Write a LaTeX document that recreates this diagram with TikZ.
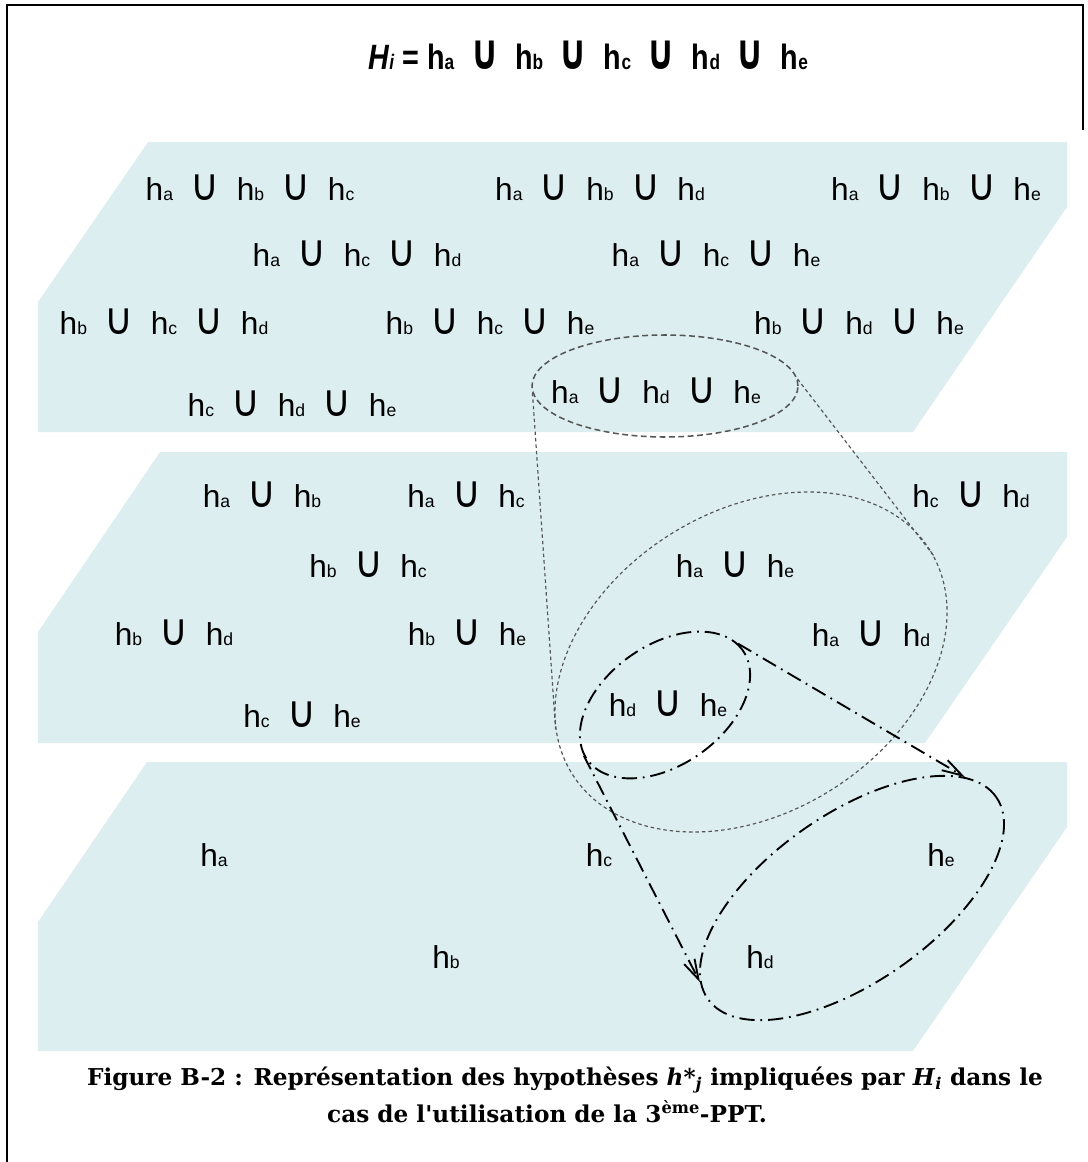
\documentclass[tikz,border=0pt]{standalone}
\usepackage{fontspec}
\usepackage{graphicx}
\setmainfont{DejaVu Serif}
\setsansfont{Liberation Sans}
\newfontfamily\symfont{DejaVu Sans}
\usetikzlibrary{arrows.meta,shapes.geometric}
\definecolor{Plane}{HTML}{DCEEF0}
\definecolor{Zoom}{HTML}{555555}
\newcommand{\pxu}{0.3mm}
\newcommand{\hyp}[2][15]{h{\fontsize{#1}{#1}\selectfont #2}}
\newcommand{\cupop}{\hspace{0.55em}\scalebox{1.25}[1.4]{\symfont ∪}\hspace{0.55em}}
\tikzset{
  plane/.style={fill=Plane, draw=none},
  lbl/.style={font=\sffamily\fontsize{27}{30}\selectfont, inner sep=0pt},
  zoomdash/.style={ellipse, draw=Zoom, line width=1.3pt, dash pattern=on 5pt off 3pt, inner sep=0pt},
  zoomfine/.style={zoomdash, line width=1pt, dash pattern=on 3pt off 2.5pt},
  zoomdot/.style={ellipse, draw=black, line width=1.6pt, dash pattern=on 13pt off 5pt on 1.5pt off 5pt, inner sep=0pt},
  link/.style={draw=Zoom, line width=1pt, dash pattern=on 3pt off 2.5pt},
  darrow/.style={draw=black, line width=1.6pt, dash pattern=on 13pt off 5pt on 1.5pt off 5pt, -{Straight Barb[length=6mm,width=3.5mm]}},
  frame/.style={line width=1.8pt},
  capt/.style={font=\bfseries\fontsize{19.8}{24}\selectfont, inner sep=0pt}
}
\begin{document}
\begin{tikzpicture}[x=\pxu, y=-\pxu]
\useasboundingbox (0,0) rectangle (1088,1162);
\draw[frame] (7,1162) -- (7,5) -- (1083,5) -- (1083,130);
% three levels
\fill[plane] (148,142) -- (1067,142) -- (1067,207) -- (913,432) -- (38,432) -- (38,302) -- cycle;
\fill[plane] (160,452) -- (1067,452) -- (1067,537) -- (925,743) -- (38,743) -- (38,632) -- cycle;
\fill[plane] (147,762) -- (1067,762) -- (1067,827) -- (913,1051) -- (38,1051) -- (38,922) -- cycle;
\node[font=\sffamily\bfseries\fontsize{30}{34}\selectfont, inner sep=0pt] (title) at (588,55)
  {\resizebox{132mm}{\height}{\textit{H}{\fontsize{18}{18}\selectfont\textit{i}} = \hyp[18]{a}\cupop\hyp[18]{b}\cupop\hyp[18]{c}\cupop\hyp[18]{d}\cupop\hyp[18]{e}}};
% triples
\node[lbl] (abc) at (250,188) {\hyp{a}\cupop\hyp{b}\cupop\hyp{c}};
\node[lbl] (abd) at (600,188) {\hyp{a}\cupop\hyp{b}\cupop\hyp{d}};
\node[lbl] (abe) at (936,188) {\hyp{a}\cupop\hyp{b}\cupop\hyp{e}};
\node[lbl] (acd) at (357,254) {\hyp{a}\cupop\hyp{c}\cupop\hyp{d}};
\node[lbl] (ace) at (716,254) {\hyp{a}\cupop\hyp{c}\cupop\hyp{e}};
\node[lbl] (bcd) at (164,322) {\hyp{b}\cupop\hyp{c}\cupop\hyp{d}};
\node[lbl] (bce) at (490,322) {\hyp{b}\cupop\hyp{c}\cupop\hyp{e}};
\node[lbl] (bde) at (859,322) {\hyp{b}\cupop\hyp{d}\cupop\hyp{e}};
\node[lbl] (cde) at (292,404) {\hyp{c}\cupop\hyp{d}\cupop\hyp{e}};
\node[lbl] (ade) at (656,391) {\hyp{a}\cupop\hyp{d}\cupop\hyp{e}};
% pairs
\node[lbl] (ab) at (262,495) {\hyp{a}\cupop\hyp{b}};
\node[lbl] (ac) at (466,495) {\hyp{a}\cupop\hyp{c}};
\node[lbl] (cd) at (971,495) {\hyp{c}\cupop\hyp{d}};
\node[lbl] (bc) at (368,565) {\hyp{b}\cupop\hyp{c}};
\node[lbl] (ae) at (735,565) {\hyp{a}\cupop\hyp{e}};
\node[lbl] (bd) at (174,633) {\hyp{b}\cupop\hyp{d}};
\node[lbl] (be) at (467,633) {\hyp{b}\cupop\hyp{e}};
\node[lbl] (ad) at (871,634) {\hyp{a}\cupop\hyp{d}};
\node[lbl] (de) at (668,704) {\hyp{d}\cupop\hyp{e}};
\node[lbl] (ce) at (302,715) {\hyp{c}\cupop\hyp{e}};
% singles
\node[lbl] (a) at (214,855) {\hyp{a}};
\node[lbl] (c) at (599,855) {\hyp{c}};
\node[lbl] (e) at (941,855) {\hyp{e}};
\node[lbl] (b) at (446,957) {\hyp{b}};
\node[lbl] (d) at (760,957) {\hyp{d}};
% zoom cones
\node[zoomdash, minimum width=266*\pxu, minimum height=102*\pxu] (e1) at (665,386) {};
\node[zoomfine, minimum width=422*\pxu, minimum height=302*\pxu, rotate=32] (e2) at (751,662) {};
\node[zoomdot, minimum width=190*\pxu, minimum height=120*\pxu, rotate=35] (e3) at (665,705) {};
\node[zoomdot, minimum width=352*\pxu, minimum height=168*\pxu, rotate=35] (e4) at (852,898) {};
\draw[link] (e1.183) -- (e2.167);
\draw[link] (e1.3) -- (e2.358);
\draw[darrow] (e3.177) -- (e4.174);
\draw[darrow] (e3.5) -- (e4.12);
\node[capt] (cap1) at (565,1080) {Figure B-2 : Représentation des hypothèses \textit{h*}\textsubscript{\textit{j}} impliquées par \textit{H}\textsubscript{\textit{i}} dans le};
\node[capt] (cap2) at (547,1112) {cas de l\textquotesingle utilisation de la 3\textsuperscript{ème}-PPT.};
\end{tikzpicture}
\end{document}
